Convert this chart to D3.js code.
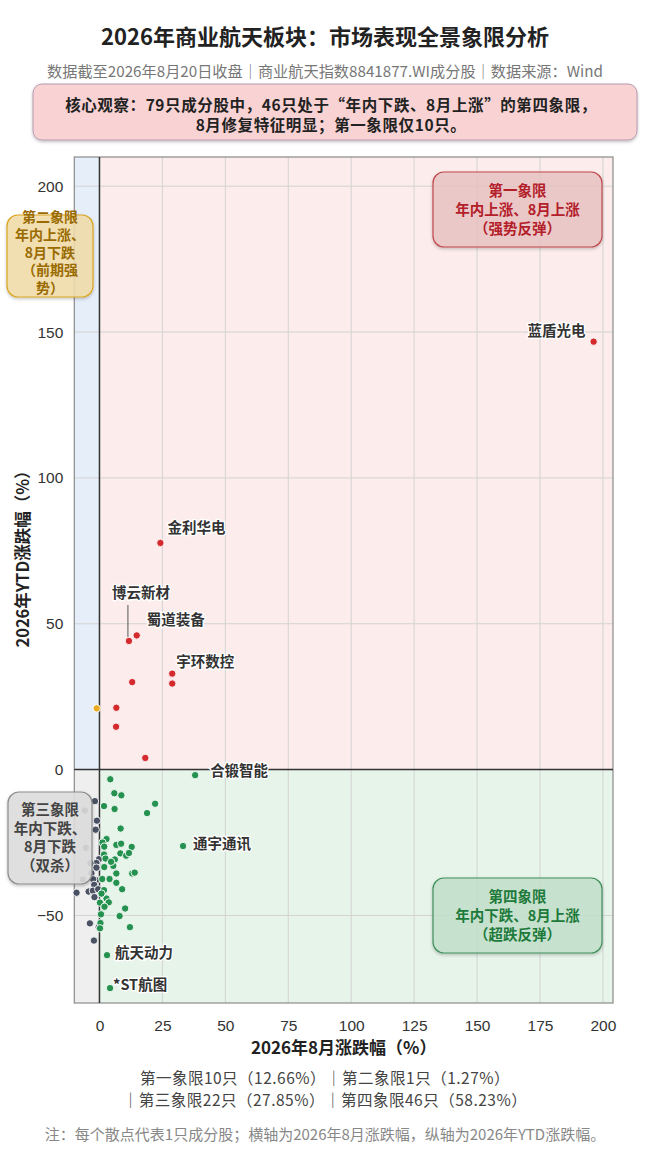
<!DOCTYPE html>
<html><head><meta charset="utf-8">
<script src="https://cdn.jsdelivr.net/npm/d3@7"></script>
<style>
body{margin:0;background:#fff;}
svg{display:block;font-family:"Noto Sans CJK SC","Noto Sans",sans-serif;}
</style></head>
<body>
<svg id="c" width="650" height="1156"></svg>
<script>
// ---------- data ----------
const xTicks = [0,25,50,75,100,125,150,175,200];
const yTicks = [-50,0,50,100,150,200];
// [8月涨跌幅, YTD涨跌幅]
const q1Points = [[196.3,146.7],[24.2,77.7],[11.7,44.1],[14.8,46.0],[28.9,32.9],[28.9,29.5],[13.0,30.0],[6.7,21.2],[6.6,14.7],[18.2,4.0]];
const q2Points = [[-1.1,21.0]];
const q3Points = [[-1.8,-10.8],[-5.8,-14.0],[-1.0,-17.5],[-1.5,-20.6],[-5.4,-26.8],[-0.2,-30.7],[-1.2,-32.0],[-3.6,-32.1],[-1.2,-33.6],[-3.2,-35.5],[-6.6,-37.7],[-1.3,-37.9],[-2.5,-37.6],[-2.1,-39.5],[-9.1,-42.2],[-4.3,-41.8],[-2.6,-41.5],[-0.5,-41.0],[-2.0,-43.7],[-3.8,-52.7],[-0.3,-54.0],[-2.2,-58.6]];
const q4Points = [[4.3,-3.3],[38.0,-1.9],[5.9,-8.1],[8.7,-8.8],[22.1,-11.7],[1.8,-12.5],[6.0,-13.5],[18.9,-14.9],[8.4,-20.2],[33.2,-26.2],[2.8,-23.8],[1.2,-25.0],[6.7,-25.8],[8.6,-25.4],[12.8,-26.5],[1.9,-26.4],[8.3,-28.7],[10.6,-29.5],[11.7,-28.6],[1.8,-29.1],[2.4,-30.5],[6.1,-30.8],[5.5,-33.0],[1.9,-33.4],[6.7,-35.6],[13.0,-35.6],[14.0,-35.3],[1.1,-37.5],[4.0,-37.5],[6.7,-38.8],[9.0,-41.0],[1.8,-41.3],[2.8,-44.2],[3.7,-45.5],[0.2,-45.6],[10.2,-47.6],[0.6,-49.6],[8.0,-50.2],[0.4,-52.6],[12.1,-54.0],[0.2,-54.4],[3.0,-63.6],[4.2,-74.9],[0.8,-42.5],[2.0,-47.0],[4.6,-31.6]];
const labelNames = ["蓝盾光电","金利华电","博云新材","蜀道装备","宇环数控","合锻智能","通宇通讯","航天动力","*ST航图"];
const labelPoints = [[196.3,146.7],[24.2,77.7],[11.7,44.1],[14.8,46.0],[28.9,32.9],[38.0,-1.9],[33.2,-26.2],[3.0,-63.6],[4.2,-74.9]];
const quadrantTitles = ["第一象限","第二象限","第三象限","第四象限"];
const calloutLines = ["核心观察：79只成分股中，46只处于“年内下跌、8月上涨”的第四象限，","8月修复特征明显；第一象限仅10只。"];
const summaryLines = ["第一象限10只（12.66%）｜第二象限1只（1.27%）","｜第三象限22只（27.85%）｜第四象限46只（58.23%）"];

// ---------- chart ----------
const svg = d3.select("#c");
const L=74.3,R=613,T=157,B=1003;
const x = d3.scaleLinear().domain([-10,204]).range([L,R]);
const y = d3.scaleLinear().domain([-80,210]).range([B,T]);

// multi-line text helper (one text element, tspans)
function mline(cx, firstY, dy, lines, size, weight, color){
  const t = svg.append("text").attr("x",cx).attr("y",firstY).attr("text-anchor","middle")
    .attr("font-size",size).attr("font-weight",weight).attr("fill",color);
  lines.forEach((s,i)=>t.append("tspan").attr("x",cx).attr("dy",i===0?0:dy).text(s));
  return t;
}

// title
svg.append("text").attr("x",325).attr("y",45).attr("text-anchor","middle")
  .attr("font-size",22).attr("font-weight",700).attr("fill","#222")
  .text("2026年商业航天板块：市场表现全景象限分析");
svg.append("text").attr("x",325).attr("y",77).attr("text-anchor","middle")
  .attr("font-size",15.2).attr("fill","#777")
  .text("数据截至2026年8月20日收盘｜商业航天指数8841877.WI成分股｜数据来源：Wind");

// callout
const defs = svg.append("defs");
const f = defs.append("filter").attr("id","sh").attr("x","-10%").attr("y","-20%").attr("width","120%").attr("height","150%");
f.append("feDropShadow").attr("dx",0).attr("dy",1.5).attr("stdDeviation",1.5).attr("flood-color","#000").attr("flood-opacity",0.25);
svg.append("rect").attr("x",33).attr("y",84).attr("width",604).attr("height",56).attr("rx",9)
  .attr("fill","#f9d3d3").attr("stroke","#b79ab0").attr("stroke-width",1).attr("filter","url(#sh)");
mline(331,110.5,20.5,calloutLines,15.5,700,"#222").attr("letter-spacing",0.6);

// quadrant backgrounds
const x0=x(0), y0=y(0);
svg.append("rect").attr("x",x0).attr("y",T).attr("width",R-x0).attr("height",y0-T).attr("fill","#fcecec");
svg.append("rect").attr("x",L).attr("y",T).attr("width",x0-L).attr("height",y0-T).attr("fill","#e6eef9");
svg.append("rect").attr("x",L).attr("y",y0).attr("width",x0-L).attr("height",B-y0).attr("fill","#efefef");
svg.append("rect").attr("x",x0).attr("y",y0).attr("width",R-x0).attr("height",B-y0).attr("fill","#e7f4ea");

// grid
const g = svg.append("g");
g.selectAll(".gx").data(xTicks).join("line").attr("x1",d=>x(d)).attr("x2",d=>x(d)).attr("y1",T).attr("y2",B)
  .attr("stroke","#d3d3d3").attr("stroke-width",1);
g.selectAll(".gy").data(yTicks).join("line").attr("y1",d=>y(d)).attr("y2",d=>y(d)).attr("x1",L).attr("x2",R)
  .attr("stroke","#d3d3d3").attr("stroke-width",1);

// axes labels
const xa = d3.axisBottom(x).tickValues(xTicks).tickSize(0).tickPadding(17);
const ya = d3.axisLeft(y).tickValues(yTicks).tickSize(0).tickPadding(11).tickFormat(d=>d<0?"−"+Math.abs(d):d);
const gx = svg.append("g").attr("transform",`translate(0,${B})`).call(xa);
const gy = svg.append("g").attr("transform",`translate(${L},0)`).call(ya);
[gx,gy].forEach(a=>{a.select(".domain").remove();a.selectAll("text").attr("font-size",15.5).attr("fill","#333").attr("font-family","'Liberation Sans',Arial,sans-serif");});

// border + zero lines
svg.append("rect").attr("x",L).attr("y",T).attr("width",R-L).attr("height",B-T).attr("fill","none").attr("stroke","#8a8a8a").attr("stroke-width",1.2);
svg.append("line").attr("x1",x0).attr("x2",x0).attr("y1",T).attr("y2",B).attr("stroke","#333").attr("stroke-width",1.5);
svg.append("line").attr("x1",L).attr("x2",R).attr("y1",y0).attr("y2",y0).attr("stroke","#333").attr("stroke-width",1.5);

// axis titles
svg.append("text").attr("x",(L+R)/2).attr("y",1054).attr("text-anchor","middle").attr("font-size",17).attr("font-weight",700).attr("fill","#222")
  .text("2026年8月涨跌幅（%）");
svg.append("text").attr("transform",`translate(29,555) rotate(-90)`).attr("text-anchor","middle").attr("font-size",16.5).attr("font-weight",700).attr("fill","#222")
  .text("2026年YTD涨跌幅（%）");

// points
function drawPts(data,color){
  svg.append("g").selectAll("circle").data(data).join("circle")
    .attr("cx",d=>x(d[0])).attr("cy",d=>y(d[1])).attr("r",3.7)
    .attr("fill",color).attr("stroke","#fff").attr("stroke-width",0.9);
}
drawPts(q3Points,"#4a5163");
drawPts(q4Points,"#24914f");
drawPts(q1Points,"#d42a2e");
drawPts(q2Points,"#e8ab22");

// point labels
const offs = [[-8,-10,"end"],[7,-14,"start"],[0,-47,"middle"],[10,-14,"start"],[4,-11,"start"],[15,-3,"start"],[10,-1,"start"],[8,-1,"start"],[3,-2,"start"]];
labelNames.forEach((n,i)=>{
  const p = labelPoints[i], o = offs[i];
  const px=x(p[0]), py=y(p[1]);
  if(n==="博云新材"){
    svg.append("line").attr("x1",px-1).attr("x2",px-1).attr("y1",py-36).attr("y2",py-4).attr("stroke","#555").attr("stroke-width",1);
  }
  svg.append("text").attr("x",px+o[0]+(n==="博云新材"?12:0)).attr("y",py+o[1]).attr("text-anchor",o[2])
    .attr("dominant-baseline","middle").attr("font-size",14.5).attr("font-weight",700).attr("fill","#333")
    .attr("stroke","#fff").attr("stroke-width",2.5).attr("paint-order","stroke").text(n);
});

// quadrant boxes
function qbox(bx,by,bw,bh,fill,stroke,color,lines,firstY,dy,size){
  svg.append("rect").attr("x",bx).attr("y",by).attr("width",bw).attr("height",bh).attr("rx",11)
    .attr("fill",fill).attr("stroke",stroke).attr("stroke-width",1.2).attr("filter","url(#sh)");
  mline(bx+bw/2, firstY, dy, lines, size, 700, color);
}
qbox(433,172,169,75,"rgba(236,196,196,0.75)","#c0474a","#b3202a",[quadrantTitles[0],"年内上涨、8月上涨","（强势反弹）"],196,19,14.5);
qbox(7,215,86,82,"rgba(243,222,170,0.85)","#d9a520","#9a6b00",[quadrantTitles[1],"年内上涨、","8月下跌","（前期强","势）"],222,17.8,14);
qbox(8,792,84,92,"rgba(222,222,222,0.88)","#8c8c8c","#444",[quadrantTitles[2],"年内下跌、","8月下跌","（双杀）"],815,18.7,14.5);
qbox(433,878,169,75,"rgba(196,226,205,0.8)","#3f8f5a","#1d7a3a",[quadrantTitles[3],"年内下跌、8月上涨","（超跌反弹）"],902,19,14.5);

// summary
mline(325,1084,22,summaryLines,15.5,400,"#444").attr("letter-spacing",0.5);
svg.append("text").attr("x",325).attr("y",1140).attr("text-anchor","middle").attr("font-size",15).attr("fill","#888")
  .text("注：每个散点代表1只成分股；横轴为2026年8月涨跌幅，纵轴为2026年YTD涨跌幅。");
</script>
</body></html>
